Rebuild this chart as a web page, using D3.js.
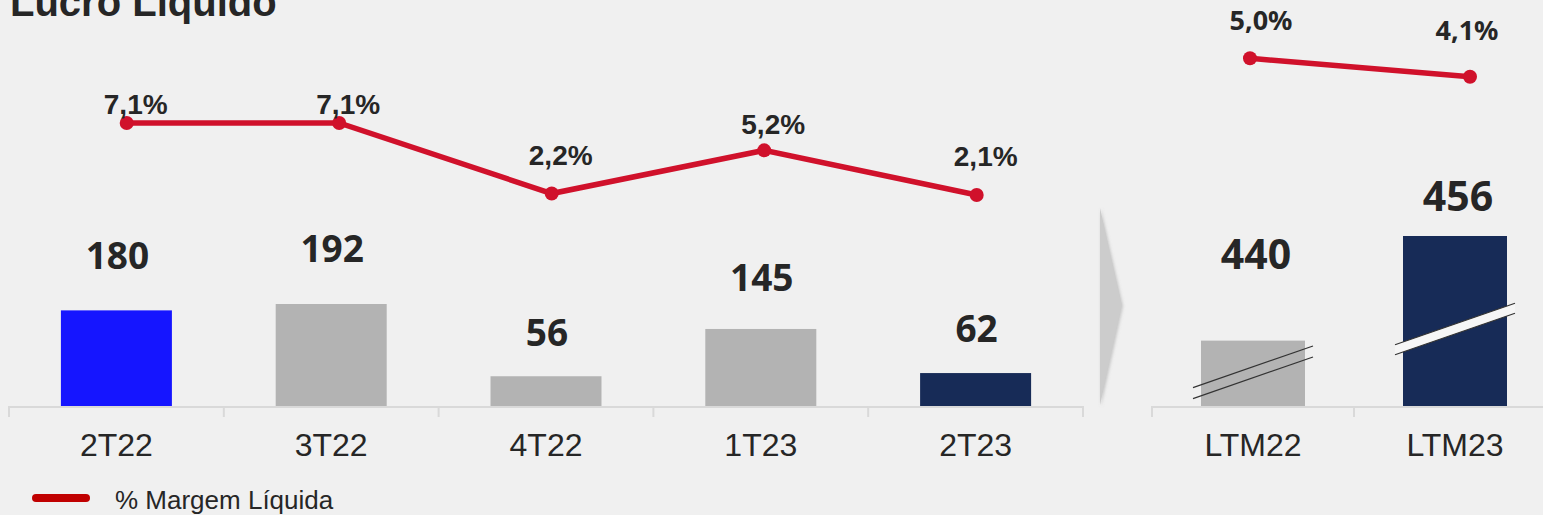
<!DOCTYPE html>
<html>
<head>
<meta charset="utf-8">
<script src="https://cdn.jsdelivr.net/npm/d3@7"></script>
<style>
  html, body { margin: 0; padding: 0; background: #f0f0f0; }
  svg { display: block; }
  .title { font-family: "Liberation Sans", Arial, sans-serif; font-weight: bold; font-size: 40px; fill: #262626; }
  .xlab { font-family: "Liberation Sans", Arial, sans-serif; font-size: 32px; fill: #262626; }
  .val { font-family: "Noto Sans", sans-serif; font-weight: bold; fill: #262626; text-anchor: middle; }
  .pct { font-family: "Liberation Sans", Arial, sans-serif; font-weight: bold; font-size: 28px; fill: #262626; text-anchor: middle; }
  .pct2 { font-family: "Noto Sans", sans-serif; font-weight: bold; font-size: 27px; fill: #262626; text-anchor: middle; }
  .legend { font-family: "Liberation Sans", Arial, sans-serif; font-size: 26px; fill: #262626; }
</style>
</head>
<body>
<svg id="chart" width="1543" height="515"></svg>
<script>
/* global d3 */
// quarterly data
const quarters = ['2T22', '3T22', '4T22', '1T23', '2T23'];
const lucro = [180, 192, 56, 145, 62];
const margem = [7.1, 7.1, 2.2, 5.2, 2.1];

// last twelve months
const ltmPeriods = ['LTM22', 'LTM23'];
const lucroLtm = [440, 456];
const margemLtm = [5.0, 4.1];

const BAR_COLORS = { '2T22': '#1515ff', '2T23': '#172b57', LTM23: '#172b57' };
const GREY = '#b3b3b3';
const RED = '#d0112b';
const AXIS = '#d9d9d9';
const BASE_Y = 406;

const fmtPct = (v) => `${v.toFixed(1).replace('.', ',')}%`;

const main = () => {
  const svg = d3.select('#chart');

  svg.append('text').attr('class', 'title').attr('x', 10).attr('y', 16).text('Lucro Líquido');

  // ---------- left panel: quarters ----------
  const x = d3.scaleBand().domain(quarters).range([9, 1083]);
  const y = d3.scaleLinear().domain([0, 192]).range([BASE_Y, 304]);
  const yLabel = d3.scaleLinear().domain([56, 192]).range([346, 262]);
  const barW = 111;

  const left = svg.append('g');
  left
    .selectAll('rect')
    .data(quarters)
    .join('rect')
    .attr('x', (d) => x(d) + x.bandwidth() / 2 - barW / 2)
    .attr('y', (d, i) => y(lucro[i]))
    .attr('width', barW)
    .attr('height', (d, i) => BASE_Y - y(lucro[i]))
    .attr('fill', (d) => BAR_COLORS[d] || GREY);

  left
    .selectAll('text.val')
    .data(quarters)
    .join('text')
    .attr('class', 'val')
    .style('font-size', '37px')
    .attr('x', (d) => x(d) + x.bandwidth() / 2 + 1)
    .attr('y', (d, i) => yLabel(lucro[i]))
    .text((d, i) => lucro[i]);

  const drawAxis = (scale, x0, x1) => {
    const g = svg.append('g');
    g.append('line')
      .attr('x1', x0).attr('x2', x1)
      .attr('y1', BASE_Y + 1).attr('y2', BASE_Y + 1)
      .attr('stroke', AXIS).attr('stroke-width', 2);
    const edges = scale.domain().map((d) => scale(d)).concat([scale(scale.domain().slice(-1)[0]) + scale.step()]);
    g.selectAll('line.tick')
      .data(edges)
      .join('line')
      .attr('class', 'tick')
      .attr('x1', (d) => d).attr('x2', (d) => d)
      .attr('y1', BASE_Y).attr('y2', BASE_Y + 11)
      .attr('stroke', AXIS).attr('stroke-width', 2);
    const ax = d3.axisBottom(scale).tickSize(0).tickPadding(0);
    const a = svg.append('g').attr('transform', `translate(0,${BASE_Y})`).call(ax);
    a.select('.domain').remove();
    a.selectAll('text')
      .attr('class', 'xlab')
      .attr('dy', null)
      .attr('y', 50)
      .style('font-family', '"Liberation Sans", Arial, sans-serif')
      .style('font-size', '32px')
      .attr('fill', '#262626');
  };
  drawAxis(x, 9, 1083);

  // margin line
  const xp = d3.scalePoint().domain(quarters).range([126.7, 976.7]);
  const yp = d3.scaleLinear().domain([2.1, 7.1]).range([195, 123]);
  const ypLabel = d3.scaleLinear().domain([2.2, 7.1]).range([165, 114]);
  const line = d3.line().x((d, i) => xp(quarters[i])).y((d) => yp(d));

  left.append('path')
    .attr('d', line(margem))
    .attr('fill', 'none')
    .attr('stroke', RED)
    .attr('stroke-width', 5.5);
  left.selectAll('circle')
    .data(margem)
    .join('circle')
    .attr('cx', (d, i) => xp(quarters[i]))
    .attr('cy', (d) => yp(d))
    .attr('r', 7)
    .attr('fill', RED);
  left.selectAll('text.pct')
    .data(margem)
    .join('text')
    .attr('class', 'pct')
    .attr('x', (d, i) => xp(quarters[i]) + 9)
    .attr('y', (d) => ypLabel(d))
    .text(fmtPct);

  // ---------- separator arrow ----------
  const defs = svg.append('defs');
  const f = defs.append('filter').attr('id', 'shadow').attr('x', '-50%').attr('width', '200%');
  f.append('feDropShadow').attr('dx', 1).attr('dy', 1).attr('stdDeviation', 1.5)
    .attr('flood-color', '#999').attr('flood-opacity', 0.5);
  svg.append('path')
    .attr('d', 'M1100,208 L1122,305 L1100,405 Z')
    .attr('fill', '#cccccc')
    .attr('filter', 'url(#shadow)');

  // ---------- right panel: LTM ----------
  const x2 = d3.scaleBand().domain(ltmPeriods).range([1152, 1556]);
  const y2 = d3.scaleLinear().domain([430, 456]).range([BASE_Y, 236]);
  const y2Label = d3.scaleLinear().domain([440, 456]).range([269, 211]);
  const barW2 = 104;
  const right = svg.append('g');

  right.selectAll('rect')
    .data(ltmPeriods)
    .join('rect')
    .attr('x', (d) => x2(d) + x2.bandwidth() / 2 - barW2 / 2)
    .attr('y', (d, i) => y2(lucroLtm[i]))
    .attr('width', barW2)
    .attr('height', (d, i) => BASE_Y - y2(lucroLtm[i]))
    .attr('fill', (d) => BAR_COLORS[d] || GREY);

  // axis break marks
  ltmPeriods.forEach((d, i) => {
    const cx = x2(d) + x2.bandwidth() / 2;
    const cy = (BASE_Y + y2(lucroLtm[i])) / 2 + (i === 0 ? -1 : 8);
    const hw = 60;
    const rise = 20.8;
    const gap = i === 0 ? 11 : 10;
    const g = right.append('g');
    if (i === 1) {
      g.append('path')
        .attr('d', `M${cx - hw},${cy + rise - gap / 2} L${cx + hw},${cy - rise - gap / 2} L${cx + hw},${cy - rise + gap / 2} L${cx - hw},${cy + rise + gap / 2} Z`)
        .attr('fill', '#f6f6f6');
    }
    [-gap / 2, gap / 2].forEach((o) => {
      g.append('line')
        .attr('x1', cx - hw).attr('y1', cy + rise + o)
        .attr('x2', cx + hw).attr('y2', cy - rise + o)
        .attr('stroke', '#333').attr('stroke-width', 1.2);
    });
  });

  right.selectAll('text.val')
    .data(ltmPeriods)
    .join('text')
    .attr('class', 'val')
    .style('font-size', '41px')
    .attr('x', (d) => x2(d) + x2.bandwidth() / 2 + 3)
    .attr('y', (d, i) => y2Label(lucroLtm[i]))
    .text((d, i) => lucroLtm[i]);

  drawAxis(x2, 1152, 1556);

  const xp2 = d3.scalePoint().domain(ltmPeriods).range([1250, 1470]);
  const yp2 = d3.scaleLinear().domain([4.1, 5.0]).range([76.7, 58.3]);
  const yp2Label = d3.scaleLinear().domain([4.1, 5.0]).range([40, 30]);
  const line2 = d3.line().x((d, i) => xp2(ltmPeriods[i])).y((d) => yp2(d));
  right.append('path')
    .attr('d', line2(margemLtm))
    .attr('fill', 'none')
    .attr('stroke', RED)
    .attr('stroke-width', 5.5);
  right.selectAll('circle')
    .data(margemLtm)
    .join('circle')
    .attr('cx', (d, i) => xp2(ltmPeriods[i]))
    .attr('cy', (d) => yp2(d))
    .attr('r', 7)
    .attr('fill', RED);
  right.selectAll('text.pct2')
    .data(margemLtm)
    .join('text')
    .attr('class', 'pct2')
    .attr('x', (d, i) => xp2(ltmPeriods[i]) + (i === 0 ? 11 : -3))
    .attr('y', (d) => yp2Label(d))
    .text(fmtPct);

  // ---------- legend ----------
  svg.append('line')
    .attr('x1', 36).attr('x2', 86)
    .attr('y1', 498).attr('y2', 498)
    .attr('stroke', '#c00000')
    .attr('stroke-width', 8)
    .attr('stroke-linecap', 'round');
  svg.append('text').attr('class', 'legend').attr('x', 115).attr('y', 509).text('% Margem Líquida');
};
main();
</script>
</body>
</html>
